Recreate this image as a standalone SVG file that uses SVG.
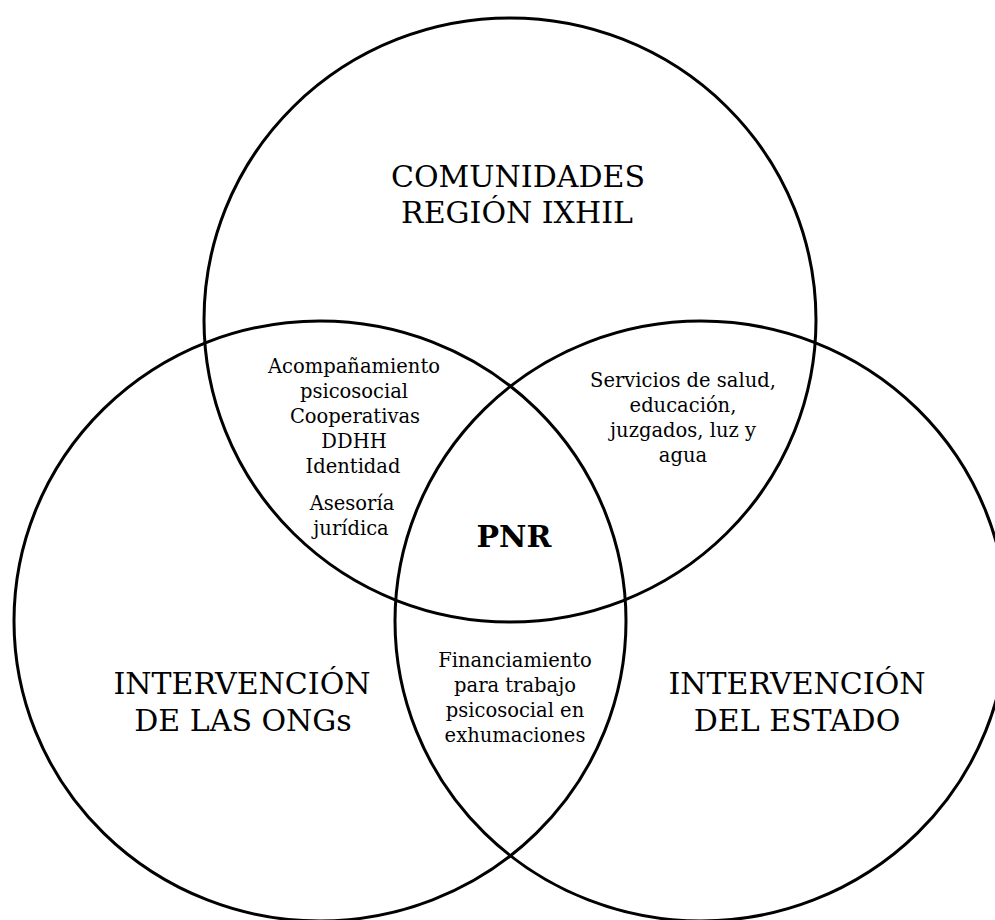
<svg xmlns="http://www.w3.org/2000/svg" width="995" height="920" viewBox="0 0 995 920">
<style>
.c{fill:none;stroke:#000;stroke-width:3}
text{font-family:"DejaVu Serif","Liberation Serif",serif;fill:#000;text-anchor:middle}
.big{font-size:30px}
.sm{font-size:19.5px}
.pnr{font-size:30px;font-weight:bold}
</style>
<rect width="995" height="920" fill="#fff"/>
<g id="connectors"></g>
<g id="comunidades">
<ellipse class="c" cx="510" cy="320" rx="306" ry="302"/>
<text class="big" x="518" y="187">COMUNIDADES</text>
<text class="big" x="517" y="223">REGIÓN IXHIL</text>
</g>
<g id="ongs">
<ellipse class="c" cx="320" cy="621" rx="306" ry="300"/>
<text class="big" x="242" y="694">INTERVENCIÓN</text>
<text class="big" x="243" y="731">DE LAS ONGs</text>
</g>
<g id="estado">
<ellipse class="c" cx="701" cy="621" rx="306" ry="300"/>
<text class="big" x="797" y="694">INTERVENCIÓN</text>
<text class="big" x="797" y="731">DEL ESTADO</text>
</g>
<g id="comunidades-ongs">
<text class="sm" x="354" y="373">Acompañamiento</text>
<text class="sm" x="354" y="398">psicosocial</text>
<text class="sm" x="355" y="423">Cooperativas</text>
<text class="sm" x="354" y="448">DDHH</text>
<text class="sm" x="353" y="473">Identidad</text>
<text class="sm" x="352" y="510">Asesoría</text>
<text class="sm" x="351" y="535">jurídica</text>
</g>
<g id="comunidades-estado">
<text class="sm" x="683" y="387">Servicios de salud,</text>
<text class="sm" x="683" y="412">educación,</text>
<text class="sm" x="683" y="437">juzgados, luz y</text>
<text class="sm" x="683" y="462">agua</text>
</g>
<g id="ongs-estado">
<text class="sm" x="515" y="667">Financiamiento</text>
<text class="sm" x="515" y="692">para trabajo</text>
<text class="sm" x="515" y="717">psicosocial en</text>
<text class="sm" x="515" y="742">exhumaciones</text>
</g>
<g id="pnr">
<text class="pnr" x="514" y="547">PNR</text>
</g>
</svg>
